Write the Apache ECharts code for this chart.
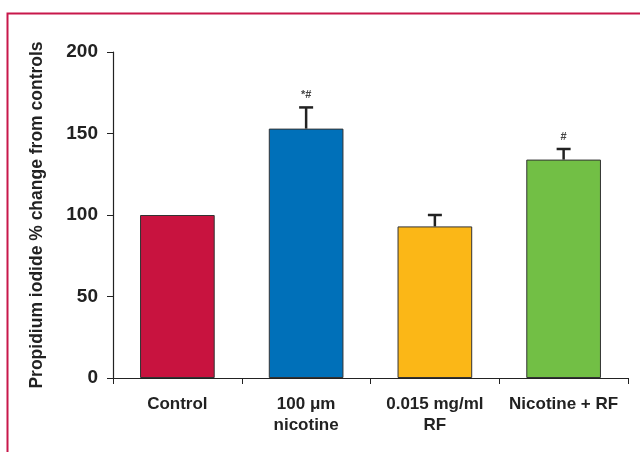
<!DOCTYPE html>
<html>
<head>
<meta charset="utf-8">
<script src="https://cdn.jsdelivr.net/npm/echarts@6/dist/echarts.min.js"></script>
<style>
    html, body { margin: 0; padding: 0; background: #fff; }
    #mains { width: 640px; height: 452px; }
</style>
</head>
<body>
<div id="mains"></div>
<script>
    var categories = ['Control', '100 \u03bcm\nnicotine', '0.015 mg/ml\nRF', 'Nicotine + RF'];
    var values = [100, 153, 93, 134];
    var errTops = [100, 166, 100, 140.5];
    var marks = ['', '*#', '', '#'];
    var colors = ['#c8133f', '#0070b9', '#fbb717', '#72bf45'];

    var myChart = echarts.init(document.getElementById('mains'));
    myChart.setOption({
        animation: false,
        textStyle: { fontFamily: 'Liberation Sans, Arial, sans-serif' },
        graphic: [{
            type: 'rect',
            shape: { x: 7.5, y: 13.5, width: 700, height: 500 },
            style: { fill: 'none', stroke: '#c8174b', lineWidth: 2 },
            silent: true
        }],
        grid: { left: 113, right: 12, top: 52, bottom: 74 },
        xAxis: {
            type: 'category',
            data: categories,
            axisLine: { lineStyle: { color: '#222', width: 1.2 } },
            axisTick: { show: true, interval: 0, length: 6, lineStyle: { color: '#222' } },
            axisLabel: {
                interval: 0, hideOverlap: false,
                color: '#222', fontWeight: 'bold', fontSize: 17, margin: 16, lineHeight: 21
            }
        },
        yAxis: {
            type: 'value',
            min: 0,
            max: 200,
            interval: 50,
            name: 'Propidium iodide % change from controls',
            nameLocation: 'middle',
            nameGap: 67,
            nameTextStyle: { color: '#222', fontWeight: 'bold', fontSize: 17.5 },
            splitLine: { show: false },
            axisLine: { show: true, lineStyle: { color: '#222', width: 1.2 } },
            axisTick: { show: true, length: 6, lineStyle: { color: '#222' } },
            axisLabel: { color: '#222', fontWeight: 'bold', fontSize: 19, margin: 15 }
        },
        series: [
            {
                type: 'bar',
                barWidth: '58%',
                data: values.map(function (v, i) {
                    return { value: v, itemStyle: { color: colors[i] } };
                }),
                itemStyle: { borderColor: '#333', borderWidth: 1 },
                z: 2
            },
            {
                type: 'custom',
                z: 3,
                data: values.map(function (v, i) { return [i, v, errTops[i]]; }),
                renderItem: function (params, api) {
                    var base = api.coord([api.value(0), api.value(1)]);
                    var top = api.coord([api.value(0), api.value(2)]);
                    var i = params.dataIndex;
                    var children = [];
                    if (api.value(2) > api.value(1)) {
                        children.push({
                            type: 'line',
                            shape: { x1: base[0], y1: base[1], x2: top[0], y2: top[1] },
                            style: { stroke: '#222', lineWidth: 2.5 }
                        });
                        children.push({
                            type: 'line',
                            shape: { x1: top[0] - 7, y1: top[1], x2: top[0] + 7, y2: top[1] },
                            style: { stroke: '#222', lineWidth: 2.5 }
                        });
                    }
                    if (marks[i]) {
                        children.push({
                            type: 'text',
                            style: {
                                x: top[0], y: top[1] - 7,
                                text: marks[i],
                                fill: '#444', fontSize: 11, fontWeight: 'bold',
                                align: 'center', verticalAlign: 'bottom'
                            }
                        });
                    }
                    return { type: 'group', children: children };
                }
            }
        ]
    });
</script>
</body>
</html>
